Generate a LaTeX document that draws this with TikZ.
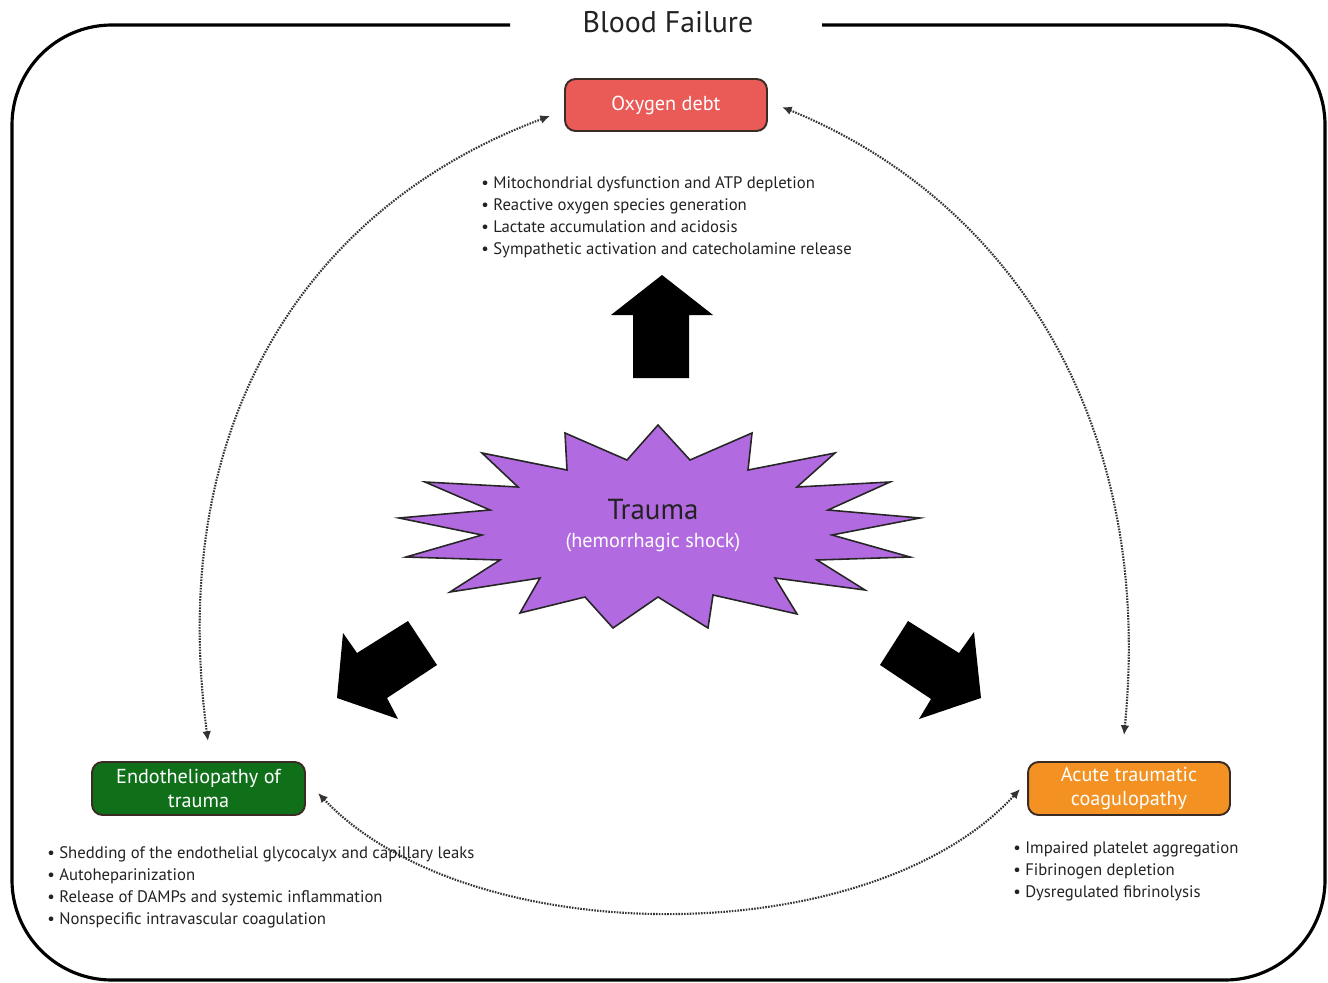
\documentclass[tikz,border=0pt]{standalone}
\usepackage{fontspec}
\setmainfont{PT Sans}
\usetikzlibrary{arrows.meta}
\definecolor{oxred}{HTML}{EA5B58}
\definecolor{endgreen}{HTML}{10701A}
\definecolor{atcorange}{HTML}{F39222}
\definecolor{starpurple}{HTML}{B26AE0}
\definecolor{boxedge}{HTML}{3B2B25}
\definecolor{txt}{HTML}{222222}
\tikzset{
  frame/.style={line width=1.8pt, draw=black},
  statebox/.style={draw=boxedge, line width=1.1pt, rounded corners=6pt, text=white,
     font=\fontsize{11.5}{13.6}\selectfont, align=center, inner sep=0pt},
  bullets/.style={text=txt, font=\fontsize{9.5}{12.6}\selectfont, align=left, inner sep=0pt},
  loop/.style={line width=1.2pt, dash pattern=on 0.9pt off 0.7pt, black!80,
     {Latex[length=5.5pt,width=5pt]}-{Latex[length=5.5pt,width=5pt]}},
  bigarrow/.style={fill=black, draw=none},
}
\begin{document}
\begin{tikzpicture}[x=0.02cm, y=-0.02cm]
\useasboundingbox (0,0) rectangle (1328,983);
% outer frame
\draw[frame, rounded corners=2cm] (510,25) -- (12,25) -- (12,980) -- (1325,980) -- (1325,25) -- (822,25);
\node[text=txt, font=\fontsize{17}{19}\selectfont, inner sep=0pt] (title) at (668,22) {Blood Failure};

% boxes
\node[statebox, fill=oxred, minimum width=4.04cm, minimum height=1.04cm] (oxy) at (666,105) {Oxygen debt};
\node[statebox, fill=endgreen, minimum width=4.26cm, minimum height=1.06cm] (endo) at (198.5,788.5) {Endotheliopathy of\\trauma};
\node[statebox, fill=atcorange, minimum width=4.04cm, minimum height=1.06cm] (atc) at (1129,788.5) {Acute traumatic\\coagulopathy};

% bullet lists (anchor at last line's baseline)
\node[bullets, anchor=base west] (oxlist) at (481,254.5) {• Mitochondrial dysfunction and ATP depletion\\• Reactive oxygen species generation\\• Lactate accumulation and acidosis\\• Sympathetic activation and catecholamine release};
\node[bullets, anchor=base west] (endolist) at (47,924.5) {• Shedding of the endothelial glycocalyx and capillary leaks\\• Autoheparinization\\• Release of DAMPs and systemic inflammation\\• Nonspecific intravascular coagulation};
\node[bullets, anchor=base west] (atclist) at (1013,897.5) {• Impaired platelet aggregation\\• Fibrinogen depletion\\• Dysregulated fibrinolysis};

% star
\filldraw[fill=starpurple, draw=black!85, line width=0.9pt, line join=miter]
 (658,425) -- (690,460) -- (752,433) -- (748,470) -- (835,453) -- (797,487) -- (890,482) -- (828,510)
 -- (920,518) -- (832,535) -- (910,557) -- (817,560) -- (865,590) -- (775,578) -- (797,614) -- (713,595)
 -- (708,628) -- (658,597) -- (613,628) -- (585,597) -- (520,613) -- (540,578) -- (450,592) -- (500,560)
 -- (406,557) -- (482,535) -- (399,518) -- (490,510) -- (425,482) -- (518,487) -- (482,453) -- (567,470)
 -- (565,433) -- (627,460) -- cycle;
\node[text=txt, font=\fontsize{16.5}{18}\selectfont, inner sep=0pt] (trauma) at (653,510) {Trauma};
\node[text=white, font=\fontsize{11.5}{13}\selectfont, inner sep=0pt] (shock) at (653,543) {(hemorrhagic shock)};

% big arrows
\fill[bigarrow] (662,275) -- (713,315) -- (689,315) -- (689,378) -- (633,378) -- (633,315) -- (611,315) -- cycle;
\fill[bigarrow] (337,698) -- (343,633) -- (357,653) -- (408,621) -- (437,665) -- (387,698) -- (398,719) -- cycle;
\fill[bigarrow] (908,621) -- (959,653) -- (974,632) -- (981,698) -- (919,719) -- (931,699) -- (880,665) -- cycle;

% dotted loop connectors
\coordinate (endoTop) at (208,741);
\coordinate (oxyLeft) at (550,116);
\coordinate (oxyRight) at (782,107);
\coordinate (atcTop) at (1124,735);
\coordinate (endoRight) at (318,793);
\coordinate (atcLeft) at (1020,789);
\draw[loop] (endoTop) .. controls (165,420) and (310,205) .. (oxyLeft);
\draw[loop] (oxyRight) .. controls (1010,200) and (1155,420) .. (atcTop);
\draw[loop] (endoRight) .. controls (470,953) and (870,953) .. (atcLeft);
\end{tikzpicture}
\end{document}
